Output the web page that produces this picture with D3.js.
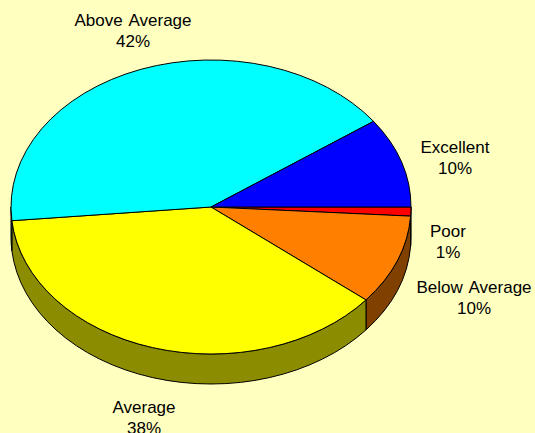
<!DOCTYPE html>
<html><head><meta charset="utf-8">
<script src="https://cdn.jsdelivr.net/npm/d3@7"></script>
<style>html,body{margin:0;padding:0;background:#FFFFC0;}svg{display:block;}</style>
</head><body>
<script>
// Data (clockwise from 3 o'clock)
const categories = ["Poor", "Below Average", "Average", "Above Average", "Excellent"];
const values = [1, 10, 38, 42, 10];
const labels = ["1%", "10%", "38%", "42%", "10%"];
const topColors = ["#FF0000", "#FF8000", "#FFFF00", "#00FFFF", "#0000FF"];
const sideColors = ["#800000", "#804000", "#8C8C00", "#008080", "#000080"];

const W = 535, H = 433;
const cx = 211, cy = 207, rx = 200, ry = 147, depth = 30;

const svg = d3.select("body").append("svg").attr("width", W).attr("height", H);
svg.append("rect").attr("width", W).attr("height", H).attr("fill", "#FFFFC0");

const data = categories.map((c, i) => ({cat: c, value: values[i], label: labels[i], top: topColors[i], side: sideColors[i]}));
const pie = d3.pie().sort(null).value(d => d.value).startAngle(Math.PI / 2).endAngle(Math.PI / 2 + 2 * Math.PI);
const arcs = pie(data).map(a => ({...a, t0: a.startAngle - Math.PI / 2, t1: a.endAngle - Math.PI / 2}));

const px = t => cx + rx * Math.cos(t);
const py = t => cy + ry * Math.sin(t);

// Sides (front half: t in [0, PI])
const g = svg.append("g");
arcs.forEach(a => {
  const s = Math.max(a.t0, 0), e = Math.min(a.t1, Math.PI);
  if (e <= s) return;
  const large = (e - s) > Math.PI ? 1 : 0;
  const p = `M${px(s)},${py(s)} A${rx},${ry} 0 ${large} 1 ${px(e)},${py(e)} L${px(e)},${py(e) + depth} A${rx},${ry} 0 ${large} 0 ${px(s)},${py(s) + depth} Z`;
  g.append("path").attr("d", p).attr("fill", a.data.side).attr("stroke", "#000").attr("stroke-width", 1).attr("stroke-linejoin", "round");
});

// Tops
arcs.forEach(a => {
  const large = (a.t1 - a.t0) > Math.PI ? 1 : 0;
  const p = `M${cx},${cy} L${px(a.t0)},${py(a.t0)} A${rx},${ry} 0 ${large} 1 ${px(a.t1)},${py(a.t1)} Z`;
  g.append("path").attr("d", p).attr("fill", a.data.top).attr("stroke", "#000").attr("stroke-width", 1).attr("stroke-linejoin", "round");
});

// Labels
const labelPos = {
  "Above Average": [133, 26],
  "Excellent": [455, 153],
  "Poor": [448, 237],
  "Below Average": [474, 293],
  "Average": [144, 413]
};
arcs.forEach(a => {
  const [x, y] = labelPos[a.data.cat];
  const t = svg.append("text").attr("x", x).attr("y", y).attr("text-anchor", "middle")
    .attr("font-family", "'Liberation Sans', Arial, sans-serif").attr("font-size", 17).attr("fill", "#000")
    .attr("word-spacing", 2);
  t.append("tspan").attr("x", x).text(a.data.cat);
  t.append("tspan").attr("x", x).attr("dy", 21).text(a.data.label);
});
</script>
</body></html>
